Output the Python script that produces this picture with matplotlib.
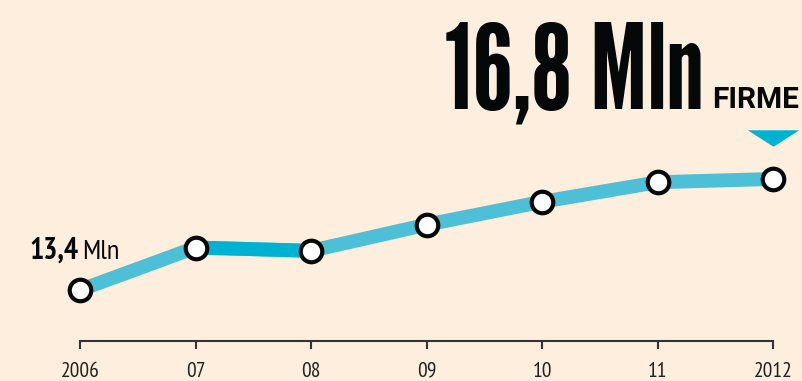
import numpy as np
import matplotlib
matplotlib.use('Agg')
import matplotlib.pyplot as plt
from matplotlib import font_manager as fm
from matplotlib.font_manager import FontProperties
from matplotlib.textpath import TextPath

# data
years = ['2006', '07', '08', '09', '10', '11', '2012']
firms = [13.4, 14.7, 14.6, 15.4, 16.1, 16.7, 16.8]   # milioni di firme
hilite = (1, 2)   # segment drawn darker

BG = '#fdeedd'
LIGHT = '#4dbfd6'
DARK = '#00b2d2'
INK = '#050808'
W, H = 802, 381

avail = {f.name for f in fm.fontManager.ttflist}
def pick(*cands):
    for c in cands:
        if c in avail:
            return c
    return 'DejaVu Sans'

F_COND = pick('PT Sans Narrow', 'Roboto Condensed', 'Archivo Narrow', 'Barlow Condensed')
F_BOLD = pick('Roboto', 'Liberation Sans')

fmt = lambda v: f'{v:.1f}'.replace('.', ',')
big = fmt(firms[-1]) + ' Mln'

# heavy condensed face for the headline: take the one whose ink proportions match best
big_cands = [('Anton', 'normal'), ('League Gothic', 'normal'), ('Oswald', 'bold'),
             ('Saira ExtraCondensed', 900), ('Saira Extra Condensed', 900),
             ('Barlow Condensed', 900), ('Encode Sans Compressed', 900),
             ('Sofia Sans Extra Condensed', 900), ('Big Shoulders Display', 900),
             ('Antonio', 'bold'), ('Fjalla One', 'normal')]
target = 248 / 91
best = None
for fam, wt in big_cands:
    if fam not in avail:
        continue
    fp = FontProperties(family=fam, weight=wt)
    ext = TextPath((0, 0), big, size=100, prop=fp).get_extents()
    cap = TextPath((0, 0), '8', size=100, prop=fp).get_extents().y1
    score = abs(ext.width / cap - target)
    if best is None or score < best[0]:
        best = (score, fam, wt, cap)
if best is None:
    best = (0, 'DejaVu Sans', 'bold', 73)
_, F_BIG, W_BIG, big_cap = best
big_px = 0.97 * 100 * 91 / big_cap   # em size in pixels giving ~90 px digits

fig = plt.figure(figsize=(W / 100, H / 100), dpi=100, facecolor=BG)
ax = fig.add_axes([0, 40 / H, 1, 1 - 40 / H])
ax.set_facecolor(BG)

x = np.arange(len(years))
ax.plot(x, firms, color=LIGHT, lw=10, solid_capstyle='butt', zorder=2)
ax.plot(x[hilite[0]:hilite[1] + 1], firms[hilite[0]:hilite[1] + 1], color=DARK, lw=10,
        solid_capstyle='butt', zorder=3)
ax.plot(x, firms, ls='none', marker='o', ms=15.5, mfc='white', mec=INK, mew=3, zorder=4)

# pointer triangle above last point
tri = [(-1, 0.32), (1, 0.32), (0, -0.32), (-1, 0.32)]
ax.plot(x[-1], firms[-1] + 1.26, marker=tri, ms=37, color=DARK, mew=0, zorder=4)

ax.set_xlim(-80 / 115.5, 6 + 29 / 115.5)
ax.set_ylim(11.838, 22.28)
for s in ['top', 'left', 'right']:
    ax.spines[s].set_visible(False)
ax.spines['bottom'].set_bounds(0, 6)
ax.spines['bottom'].set_color('#333333')
ax.spines['bottom'].set_linewidth(1.5)
ax.set_yticks([])
ax.set_xticks(x)
ax.set_xticklabels(years, family=F_COND, fontsize=15.5, color='#222222')
ax.tick_params(axis='x', direction='out', length=6, width=1.5, color='#333333', pad=9)


def px(xp, yp):
    return xp / W, 1 - yp / H


fig.text(*px(703, 108), big, family=F_BIG, weight=W_BIG,
         fontsize=big_px * 0.72, ha='right', va='baseline', color=INK)
fig.text(*px(799, 108), 'FIRME', family=F_BOLD, weight='bold', fontsize=21.5,
         ha='right', va='baseline', color=INK)
fig.text(*px(29, 259), fmt(firms[0]), family=F_COND, weight='bold', fontsize=21.5,
         ha='left', va='baseline', color=INK)
fig.text(*px(82, 259), 'Mln', family=F_COND, fontsize=20.5,
         ha='left', va='baseline', color=INK)

fig.savefig('out.png', dpi=100, facecolor=BG)
